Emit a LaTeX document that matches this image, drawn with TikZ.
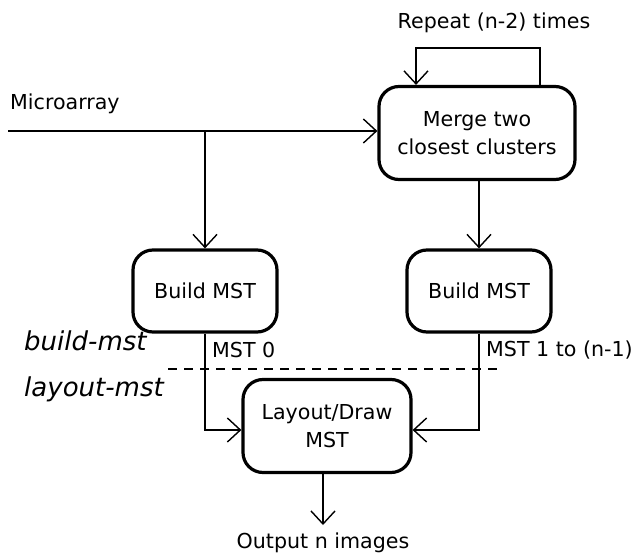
\documentclass[tikz,border=0pt]{standalone}
\usepackage{fontspec}
\setmainfont{DejaVu Sans}
\usetikzlibrary{arrows.meta}
\begin{document}
\begin{tikzpicture}[x=1pt,y=-1pt,
  box/.style={draw, line width=3.2pt, rounded corners=20pt, align=center, inner sep=0pt, font=\fontsize{20.6}{28}\selectfont},
  conn/.style={line width=1.4pt, -{Straight Barb[length=13pt,width=24pt,line width=1.4pt]}},
  lbl/.style={inner sep=0pt, font=\fontsize{20.6}{24}\selectfont},
  every node/.style={text=black}]
\useasboundingbox (0,0) rectangle (633,554);
\node[box, minimum width=196pt, minimum height=93pt] (merge) at (477,133) {Merge two\\closest clusters};
\node[box, minimum width=144pt, minimum height=82pt] (b1) at (205,291) {Build MST};
\node[box, minimum width=144pt, minimum height=82pt] (b2) at (479,291) {Build MST};
\node[box, minimum width=168pt, minimum height=93pt] (lay) at (327,426) {Layout/Draw\\MST};
\node[lbl] (rep) at (494,23) {Repeat (n-2) times};
\node[lbl, anchor=west] (micro) at (10,104) {Microarray};
\node[lbl, anchor=west, font=\fontsize{26}{30}\selectfont\itshape] (bm) at (24,341) {build-mst};
\node[lbl, anchor=west, font=\fontsize{26}{30}\selectfont\itshape] (lm) at (24,389) {layout-mst};
\node[lbl, anchor=west] (m0) at (212,350) {MST 0};
\node[lbl, anchor=west] (m1) at (486,350) {MST 1 to (n-1)};
\node[lbl] (out) at (323,543) {Output n images};
\coordinate (start) at (8,131);
\coordinate (br) at (205,131);
\coordinate (out0) at (323,525);
\coordinate (d1) at (168,369);
\coordinate (d2) at (503,369);
\draw[conn] (start) -- (merge.west |- start);
\draw[conn] (br) -- (b1.north);
\draw[conn] ([xshift=63pt]merge.north) |- (416,48) -- ([xshift=-61pt]merge.north);
\draw[conn] (merge.south -| b2) -- (b2.north);
\draw[conn] (b1.south) |- (lay.west |- 0,430);
\draw[conn] (b2.south) |- (lay.east |- 0,430);
\draw[conn] (lay.south -| out0) -- (out0);
\draw[line width=1.4pt, dash pattern=on 9pt off 7pt] (d1) -- (d2);
\end{tikzpicture}
\end{document}
